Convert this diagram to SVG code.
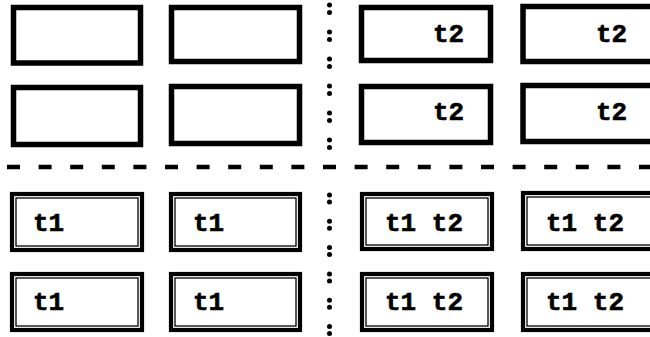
<svg xmlns="http://www.w3.org/2000/svg" width="650" height="337" viewBox="0 0 650 337">
  <style>
    .single { fill: #ffffff; stroke: #000000; stroke-width: 5.5; }
    .outer { fill: #ffffff; stroke: #000000; stroke-width: 4.2; }
    .inner { fill: none; stroke: #000000; stroke-width: 1.3; }
    .lbl { font-family: "Liberation Mono", "Courier New", monospace; font-weight: bold; font-size: 26px; fill: #000000; stroke: #000000; stroke-width: 0.6; }
    .dots { stroke: #000000; stroke-width: 5; stroke-linecap: round; fill: none; }
    .dash { stroke: #000000; stroke-width: 4.5; stroke-dasharray: 13 18.6; fill: none; }
  </style>
  <rect width="650" height="337" fill="#ffffff"/>

  <!-- separators -->
  <g id="separators">
    <line class="dots" x1="329.5" y1="5" x2="329.5" y2="150" stroke-dasharray="0 7.5 0 19.5"/>
    <line class="dots" x1="329.5" y1="195" x2="329.5" y2="336" stroke-dasharray="0 7 0 19.3"/>
    <line class="dash" x1="7" y1="167" x2="650" y2="167"/>
  </g>

  <!-- upper-left quadrant: empty boxes -->
  <g id="n11"><rect class="single" x="13.5" y="7.5" width="127" height="55.5"/></g>
  <g id="n12"><rect class="single" x="171.5" y="7.5" width="128" height="54"/></g>
  <g id="n21"><rect class="single" x="13.5" y="87.5" width="127" height="57"/></g>
  <g id="n22"><rect class="single" x="171.5" y="86.5" width="128" height="57"/></g>

  <!-- upper-right quadrant: t2 -->
  <g id="n13">
    <rect class="single" x="361.5" y="7.5" width="129" height="53"/>
    <text class="lbl" x="433" y="42">t2</text>
  </g>
  <g id="n14">
    <rect class="single" x="523" y="6.5" width="140" height="55"/>
    <text class="lbl" x="596" y="42">t2</text>
  </g>
  <g id="n23">
    <rect class="single" x="361.5" y="86.5" width="129" height="56"/>
    <text class="lbl" x="433" y="120">t2</text>
  </g>
  <g id="n24">
    <rect class="single" x="523" y="85.5" width="140" height="56"/>
    <text class="lbl" x="596" y="120">t2</text>
  </g>

  <!-- lower-left quadrant: t1 -->
  <g id="n31">
    <rect class="outer" x="12" y="194" width="130" height="56"/>
    <rect class="inner" x="16" y="198" width="122" height="48"/>
    <text class="lbl" x="33" y="231">t1</text>
  </g>
  <g id="n32">
    <rect class="outer" x="171" y="194" width="129" height="56"/>
    <rect class="inner" x="175" y="198" width="121" height="48"/>
    <text class="lbl" x="193" y="231">t1</text>
  </g>
  <g id="n41">
    <rect class="outer" x="12" y="274" width="130" height="56"/>
    <rect class="inner" x="16" y="278" width="122" height="48"/>
    <text class="lbl" x="33" y="310">t1</text>
  </g>
  <g id="n42">
    <rect class="outer" x="171" y="274" width="129" height="56"/>
    <rect class="inner" x="175" y="278" width="121" height="48"/>
    <text class="lbl" x="193" y="310">t1</text>
  </g>

  <!-- lower-right quadrant: t1 t2 -->
  <g id="n33">
    <rect class="outer" x="362" y="194" width="130" height="55"/>
    <rect class="inner" x="366" y="198" width="122" height="47"/>
    <text class="lbl" x="385" y="231">t1 t2</text>
  </g>
  <g id="n34">
    <rect class="outer" x="523" y="193" width="140" height="56"/>
    <rect class="inner" x="527" y="197" width="132" height="48"/>
    <text class="lbl" x="546" y="231">t1 t2</text>
  </g>
  <g id="n43">
    <rect class="outer" x="362" y="274" width="130" height="56"/>
    <rect class="inner" x="366" y="278" width="122" height="48"/>
    <text class="lbl" x="385" y="310">t1 t2</text>
  </g>
  <g id="n44">
    <rect class="outer" x="523" y="274" width="140" height="56"/>
    <rect class="inner" x="527" y="278" width="132" height="48"/>
    <text class="lbl" x="546" y="310">t1 t2</text>
  </g>
</svg>
